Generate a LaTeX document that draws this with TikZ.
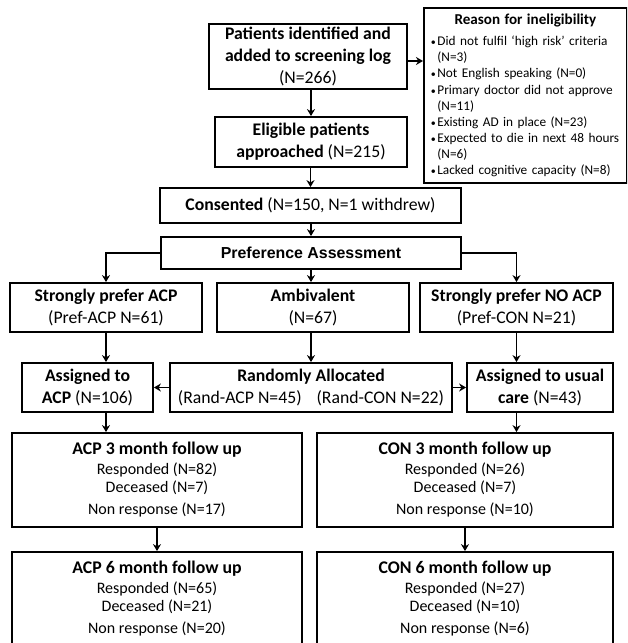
\documentclass[tikz,border=0pt]{standalone}
\usepackage{fontspec}
\setmainfont{Carlito}
\newfontfamily\arialfont{Liberation Sans}
\usetikzlibrary{arrows.meta}
\newcommand{\dotmark}{{\fontsize{10}{10}\selectfont•}\hspace{1.5pt}}

\begin{document}
\begin{tikzpicture}[x=1pt, y=-1pt,
  box/.style={draw, line width=1.8pt, align=center, inner sep=2pt,
    font=\fontsize{17.7}{22}\selectfont},
  fup/.style={box, minimum width=290pt, minimum height=94pt,
    font=\fontsize{16}{18}\selectfont},
  arr/.style={-{Stealth[length=7pt, width=8pt]}, line width=1.5pt}]
  \useasboundingbox (0,0) rectangle (627,643);
  \clip (0,0) rectangle (627,643);

  % Screening and eligibility
  \node[box, minimum width=198pt, minimum height=65pt] (screen) at (308,56.5)
    {\textbf{Patients identified and}\\\textbf{added to screening log}\\(N=266)};
  \node[box, anchor=north west, minimum width=203pt, minimum height=175pt,
    text width=189pt, align=left, inner xsep=7pt,
    font=\fontsize{13.3}{16.1}\selectfont] (excl) at (423,7)
    {{\centering\fontsize{15.1}{18}\selectfont\bfseries Reason for ineligibility\par}\vspace{5pt}
     \dotmark Did not fulfil ‘high risk’ criteria\\
     \phantom{\dotmark}(N=3)\\
     \dotmark Not English speaking (N=0)\\
     \dotmark Primary doctor did not approve\\
     \phantom{\dotmark}(N=11)\\
     \dotmark Existing AD in place (N=23)\\
     \dotmark Expected to die in next 48 hours\\
     \phantom{\dotmark}(N=6)\\
     \dotmark Lacked cognitive capacity (N=8)};
  \node[box, minimum width=192pt, minimum height=50pt] (elig) at (311,142)
    {\textbf{Eligible patients}\\\textbf{approached} (N=215)};
  \node[box, minimum width=301pt, minimum height=35pt] (consent) at (310.5,205.5)
    {\textbf{Consented} (N=150, N=1 withdrew)};
  \node[box, minimum width=300pt, minimum height=32pt,
    font=\arialfont\fontsize{15.9}{19}\selectfont\bfseries] (pref) at (311,253)
    {Preference Assessment};

  % Preference groups
  \node[box, minimum width=192pt, minimum height=49pt] (sacp) at (106,307.5)
    {\textbf{Strongly prefer ACP}\\(Pref-ACP N=61)};
  \node[box, minimum width=192pt, minimum height=49pt] (amb) at (313,307.5)
    {\textbf{Ambivalent}\\(N=67)};
  \node[box, minimum width=193pt, minimum height=49pt] (snoacp) at (516.5,307.5)
    {\textbf{Strongly prefer NO ACP}\\(Pref-CON N=21)};

  % Allocation
  \node[box, minimum width=131pt, minimum height=49pt] (asgacp) at (87.5,387.5)
    {\textbf{Assigned to}\\\textbf{ACP} (N=106)};
  \node[box, minimum width=282pt, minimum height=49pt] (rand) at (311,387.5)
    {\textbf{Randomly Allocated}\\(Rand-ACP N=45)\hspace{15pt}(Rand-CON N=22)};
  \node[box, minimum width=146pt, minimum height=49pt] (asgcon) at (540,387.5)
    {\textbf{Assigned to usual}\\\textbf{care} (N=43)};

  % Follow up
  \node[fup] (acp3) at (157,480)
    {{\fontsize{17.8}{20}\selectfont\bfseries ACP 3 month follow up}\\[2pt]
     Responded (N=82)\\Deceased (N=7)\\[4pt]Non response (N=17)};
  \node[fup, minimum width=296pt] (con3) at (465,480)
    {{\fontsize{17.8}{20}\selectfont\bfseries CON 3 month follow up}\\[2pt]
     Responded (N=26)\\Deceased (N=7)\\[4pt]Non response (N=10)};
  \node[fup] (acp6) at (157,599)
    {{\fontsize{17.8}{20}\selectfont\bfseries ACP 6 month follow up}\\[2pt]
     Responded (N=65)\\Deceased (N=21)\\[4pt]Non response (N=20)};
  \node[fup, minimum width=296pt] (con6) at (465,599)
    {{\fontsize{17.8}{20}\selectfont\bfseries CON 6 month follow up}\\[2pt]
     Responded (N=27)\\Deceased (N=10)\\[4pt]Non response (N=6)};

  % Connectors
  \coordinate (s1) at ([yshift=-4.5pt]screen.east);
  \draw[arr] (s1) -- (s1 -| excl.west);
  \draw[arr] (elig.north |- screen.south) -- (elig.north);
  \draw[arr] (consent.north |- elig.south) -- (consent.north);
  \draw[arr] (pref.north |- consent.south) -- (pref.north);
  \draw[arr] (pref.west) -| (sacp.north);
  \draw[arr] (pref.south) -- (pref.south |- amb.north);
  \draw[arr] (pref.east) -| (snoacp.north);
  \draw[arr] (sacp.south) -- (sacp.south |- asgacp.north);
  \draw[arr] (rand.north |- amb.south) -- (rand.north);
  \draw[arr] (snoacp.south) -- (snoacp.south |- asgcon.north);
  \draw[arr] (rand.west) -- (asgacp.east);
  \draw[arr] (rand.east) -- (asgcon.west);
  \draw[arr] (sacp.south |- asgacp.south) -- (sacp.south |- acp3.north);
  \draw[arr] (snoacp.south |- asgcon.south) -- (snoacp.south |- con3.north);
  \draw[arr] (acp3.south) -- (acp6.north);
  \draw[arr] (con3.south) -- (con6.north);
\end{tikzpicture}
\end{document}
